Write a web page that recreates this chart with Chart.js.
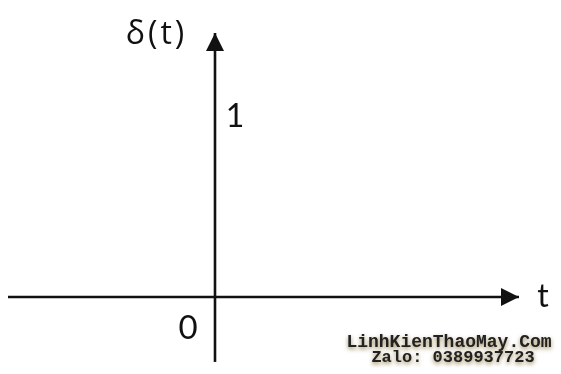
<!DOCTYPE html>
<html>
<head>
<meta charset="utf-8">
<script src="https://cdn.jsdelivr.net/npm/chart.js@4.4.1/dist/chart.umd.min.js"></script>
<style>
  html, body { margin: 0; padding: 0; background: #fff; }
  #wrap { position: relative; width: 561px; height: 374px; }
</style>
</head>
<body>
<div id="wrap"><canvas id="deltaChart" width="561" height="374"></canvas></div>
<script>
// t axis and vertical axis extents (data units)
const tAxis = [-2.07, 3.04];
const vAxisBottom = [-0.246, 0];
// unit impulse at t = 0
const impulseT = [0, 0];
const impulseVal = [0, 1];

// text labels: [text, t, value]
const labelText = ['δ(t)', '1', '0', 't'];
const labelT = [-0.585, 0.20, -0.27, 3.28];
const labelVal = [0.992, 0.682, -0.117, 0];
const labelFont = ['32px "Open Sans"', '32px Lato', '33px Lato', '32px Lato'];
const labelSpacing = ['3px', '0px', '0px', '0px'];

const watermark = ['LinhKienThaoMay.Com', 'Zalo: 0389937723'];

const ink = '#111';

function pts(xs, ys) {
    return xs.map((x, i) => ({ x: x, y: ys[i] }));
}

// arrowheads at the last point of datasets flagged with arrow: true
const arrowPlugin = {
    id: 'arrows',
    afterDatasetsDraw(chart) {
        const ctx = chart.ctx;
        chart.data.datasets.forEach((ds, i) => {
            if (!ds.arrow) return;
            const meta = chart.getDatasetMeta(i).data;
            const a = meta[meta.length - 2], b = meta[meta.length - 1];
            const ang = Math.atan2(b.y - a.y, b.x - a.x);
            const len = 18, half = 9;
            ctx.save();
            ctx.fillStyle = ink;
            ctx.translate(b.x, b.y);
            ctx.rotate(ang);
            ctx.beginPath();
            ctx.moveTo(0, 0);
            ctx.lineTo(-len, -half);
            ctx.lineTo(-len, half);
            ctx.closePath();
            ctx.fill();
            ctx.restore();
        });
    }
};

const labelPlugin = {
    id: 'labels',
    afterDraw(chart) {
        const ctx = chart.ctx;
        const xs = chart.scales.x, ys = chart.scales.y;
        ctx.save();
        ctx.fillStyle = ink;
        ctx.textAlign = 'center';
        ctx.textBaseline = 'middle';
        labelText.forEach((txt, i) => {
            ctx.font = labelFont[i] + ', sans-serif';
            ctx.letterSpacing = labelSpacing[i];
            ctx.fillText(txt, xs.getPixelForValue(labelT[i]), ys.getPixelForValue(labelVal[i]));
        });
        ctx.letterSpacing = '0px';

        // watermark, bottom right
        ctx.textBaseline = 'alphabetic';
        ctx.shadowColor = 'rgba(120, 95, 30, 0.75)';
        ctx.shadowBlur = 4;
        ctx.shadowOffsetY = 2;
        ctx.fillStyle = '#222';
        ctx.font = 'bold 18px "Liberation Mono", monospace';
        ctx.fillText(watermark[0], 449, 347);
        ctx.font = 'bold 17px "Liberation Mono", monospace';
        ctx.fillText(watermark[1], 453, 362);
        ctx.restore();
    }
};

new Chart(document.getElementById('deltaChart'), {
    type: 'scatter',
    data: {
        datasets: [
            { data: pts(tAxis, [0, 0]), arrow: true },
            { data: pts([0, 0], vAxisBottom) },
            { data: pts(impulseT, impulseVal), arrow: true }
        ].map(ds => Object.assign({
            showLine: true,
            borderColor: ink,
            borderWidth: 2.6,
            pointRadius: 0,
            pointHoverRadius: 0
        }, ds))
    },
    options: {
        responsive: false,
        animation: false,
        layout: { padding: 0 },
        plugins: { legend: { display: false }, tooltip: { enabled: false } },
        scales: {
            x: { type: 'linear', display: false, min: -2.15, max: 3.46 },
            y: { type: 'linear', display: false, min: -0.2917, max: 1.125 }
        }
    },
    plugins: [arrowPlugin, labelPlugin]
});
</script>
</body>
</html>
